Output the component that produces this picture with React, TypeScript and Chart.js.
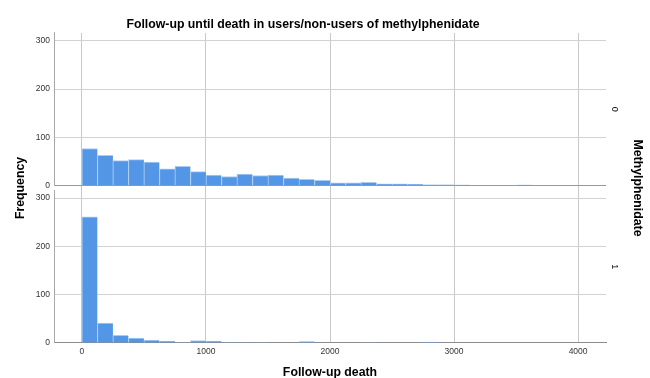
import React, { useEffect, useRef } from 'react';
import { Chart, registerables } from 'chart.js';

Chart.register(...registerables);

const TITLE = 'Follow-up until death in users/non-users of methylphenidate';
const X_TITLE = 'Follow-up death';
const Y_TITLE = 'Frequency';
const PANEL_TITLE = 'Methylphenidate';
const PANEL_LABELS = ['0', '1'];

// histogram bins (width 125), centres
const binCenters = [
  62.5, 187.5, 312.5, 437.5, 562.5, 687.5, 812.5, 937.5, 1062.5, 1187.5,
  1312.5, 1437.5, 1562.5, 1687.5, 1812.5, 1937.5, 2062.5, 2187.5, 2312.5, 2437.5,
  2562.5, 2687.5, 2812.5, 2937.5, 3062.5, 3187.5, 3312.5, 3437.5, 3562.5,
];
// Methylphenidate = 0
const nonUsers = [
  77, 63, 52, 54, 49, 35, 40, 29, 22, 19,
  24, 21, 22, 16, 13, 11, 6, 6, 7, 4,
  4, 3, 2, 2, 1, 0, 0, 0, 1,
];
// Methylphenidate = 1
const users = [
  261, 41, 16, 10, 6, 4, 1, 5, 4, 1,
  1, 1, 0, 0, 3, 0, 0, 0, 1, 0,
  0, 0, 2, 0, 0, 0, 0, 0, 0,
];

const xTicks = [0, 1000, 2000, 3000, 4000];
const yTicks = [0, 100, 200, 300];
const X_MIN = -225;
const X_MAX = 4225;
const Y_MAX = 316;

const FONT = '"Liberation Sans", Arial, sans-serif';
const BAR = 'rgb(84,150,230)';
const BAR_EDGE = 'rgb(170,204,242)';
const GRID = '#d2d2d2';

const sideLabels = {
  id: 'sideLabels',
  afterDraw(chart: any) {
    const { ctx, chartArea } = chart;
    const yTop = chart.scales.yNon;
    const yBot = chart.scales.yUsers;
    const mid = (yTop.top + yBot.bottom) / 2;
    const draw = (text: string, x: number, y: number, rot: number, font: string) => {
      ctx.save();
      ctx.translate(x, y);
      ctx.rotate(rot);
      ctx.font = font;
      ctx.fillStyle = '#000';
      ctx.textAlign = 'center';
      ctx.textBaseline = 'middle';
      ctx.fillText(text, 0, 0);
      ctx.restore();
    };
    const bold = `bold 12.3px ${FONT}`;
    draw(Y_TITLE, chartArea.left - 33.5, mid, -Math.PI / 2, bold);
    draw(PANEL_LABELS[0], chartArea.right + 8, (yTop.top + yTop.bottom) / 2, Math.PI / 2, `9px ${FONT}`);
    draw(PANEL_LABELS[1], chartArea.right + 8, (yBot.top + yBot.bottom) / 2, Math.PI / 2, `9px ${FONT}`);
    draw(PANEL_TITLE, chartArea.right + 31, mid, Math.PI / 2, bold);
  },
};

export default function App() {
  const ref = useRef<HTMLCanvasElement>(null);

  useEffect(() => {
    if (!ref.current) return;
    const tickFont = { family: FONT, size: 8.5 };
    const yAxis = (weight: number) => ({
      type: 'linear' as const,
      position: 'left' as const,
      stack: 'panels',
      stackWeight: weight,
      min: 0,
      max: Y_MAX,
      afterBuildTicks: (s: any) => { s.ticks = yTicks.map((v) => ({ value: v })); },
      ticks: { padding: 4, font: tickFont, color: '#333', callback: (v: any) => String(v) },
      grid: {
        drawTicks: false,
        color: (c: any) => (c.tick && c.tick.value === 0 ? '#999' : GRID),
      },
      border: { color: '#a8a8a8' },
      afterFit: (s: any) => { s.width = 54; },
    });
    const barStyle = {
      backgroundColor: BAR,
      borderColor: BAR_EDGE,
      borderWidth: { top: 1, left: 1, right: 0, bottom: 0 },
      borderSkipped: false,
      barPercentage: 1,
      categoryPercentage: 1,
      grouped: false,
    };
    const chart = new Chart(ref.current, {
      type: 'bar',
      data: {
        datasets: [
          {
            label: '1',
            data: binCenters.map((x, i) => ({ x, y: users[i] })),
            yAxisID: 'yUsers',
            ...barStyle,
          },
          {
            label: '0',
            data: binCenters.map((x, i) => ({ x, y: nonUsers[i] })),
            yAxisID: 'yNon',
            ...barStyle,
          },
        ],
      },
      options: {
        animation: false,
        responsive: false,
        devicePixelRatio: 1,
        layout: { padding: { left: 0, right: 44, top: 0, bottom: 0 } },
        plugins: {
          legend: { display: false },
          tooltip: { enabled: false },
          title: {
            display: true,
            text: TITLE,
            color: '#000',
            font: { family: FONT, size: 12.3, weight: 'bold' },
            padding: { top: 17, bottom: 1.2 },
          },
        },
        scales: {
          x: {
            type: 'linear',
            min: X_MIN,
            max: X_MAX,
            offset: false,
            afterBuildTicks: (s: any) => { s.ticks = xTicks.map((v) => ({ value: v })); },
            ticks: {
              padding: 4, font: tickFont, color: '#333', autoSkip: false, maxRotation: 0,
              callback: (v: any) => String(v),
            },
            grid: { drawTicks: false, color: '#c8c8c8', offset: false },
            border: { color: '#8c8c8c' },
            title: {
              display: true,
              text: X_TITLE,
              color: '#000',
              font: { family: FONT, size: 12.3, weight: 'bold' },
              padding: { top: 0, bottom: -2 },
            },
            afterFit: (s: any) => { s.height = 35; },
          },
          yUsers: yAxis(1),
          yGap: {
            type: 'linear',
            position: 'left',
            stack: 'panels',
            stackWeight: 0.03,
            ticks: { display: false },
            grid: { display: false },
            border: { display: false },
            afterFit: (s: any) => { s.width = 54; },
          },
          yNon: yAxis(1),
        },
      },
      plugins: [sideLabels],
    } as any);
    return () => chart.destroy();
  }, []);

  return (
    <div style={{ position: 'fixed', left: 0, top: 0, width: 650, height: 378, background: '#fff' }}>
      <canvas ref={ref} width={650} height={378} />
    </div>
  );
}
